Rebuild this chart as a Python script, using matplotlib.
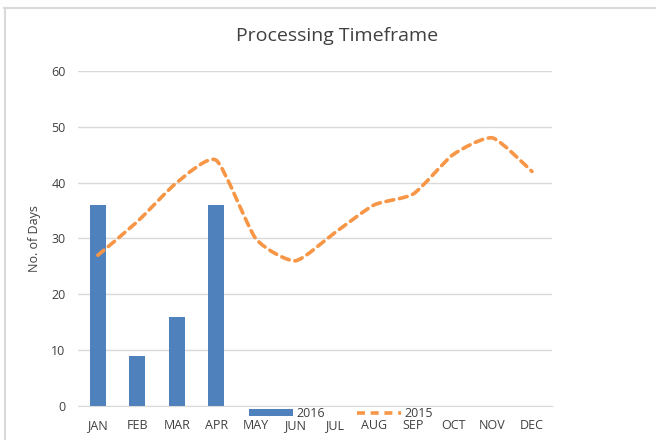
import matplotlib.pyplot as plt
import numpy as np
from matplotlib.path import Path
from matplotlib.patches import PathPatch, Patch
from matplotlib.lines import Line2D

plt.rcParams['font.family'] = ['Open Sans', 'DejaVu Sans']

months = ["JAN", "FEB", "MAR", "APR", "MAY", "JUN",
          "JUL", "AUG", "SEP", "OCT", "NOV", "DEC"]
days_2016 = [36, 9, 16, 36]
days_2015 = [27, 33, 40, 44, 30, 26, 31, 36, 38, 45, 48, 42]

blue = "#4f81bd"
orange = "#f79646"

fig = plt.figure(figsize=(6.56, 4.4), dpi=100)
ax = fig.add_axes([0.119, 0.077, 0.722, 0.762])

x = np.arange(len(months))
ax.bar(x[:len(days_2016)], days_2016, width=0.4, color=blue, zorder=2)


def smooth_path(xs, ys, t=0.1):
    # excel-style smoothed line: cubic bezier through every point
    pts = np.column_stack([xs, ys]).astype(float)
    verts = [pts[0]]
    codes = [Path.MOVETO]
    n = len(pts)
    for i in range(n - 1):
        p0 = pts[max(i - 1, 0)]
        p1 = pts[i]
        p2 = pts[i + 1]
        p3 = pts[min(i + 2, n - 1)]
        c1 = p1 + (p2 - p0) * t
        c2 = p2 - (p3 - p1) * t
        verts += [c1, c2, p2]
        codes += [Path.CURVE4] * 3
    return Path(verts, codes)


line = PathPatch(smooth_path(x, days_2015), facecolor="none", edgecolor=orange,
                 lw=2.6, linestyle=(0, (2.2, 1.6)), capstyle="round", zorder=3)
ax.add_patch(line)

ax.set_xlim(-0.5, 11.5)
ax.set_ylim(0, 60)
ax.set_yticks(range(0, 61, 10))
ax.set_xticks(x)
ax.set_xticklabels(months)
ax.grid(axis="y", color="#d9d9d9", lw=1, zorder=0)
for s in ["top", "right", "left"]:
    ax.spines[s].set_visible(False)
ax.spines["bottom"].set_color("#d9d9d9")
ax.tick_params(length=0, labelsize=9, colors="#404040", pad=9)
ax.tick_params(axis="y", pad=9)

ax.set_ylabel("No. of Days", fontsize=9, color="#404040", labelpad=7)
fig.text(0.514, 0.918, "Processing Timeframe", fontsize=14, color="#404040",
         ha="center", va="center")

handles = [Patch(facecolor=blue, edgecolor="none"),
           Line2D([0], [0], color=orange, lw=2.6, linestyle=(0, (2.2, 1.6)))]
fig.legend(handles, ["2016", "2015"], loc="center", bbox_to_anchor=(0.52, 0.06),
           ncol=2, frameon=False, fontsize=9, handlelength=3.5, handleheight=0.5,
           columnspacing=2.6, handletextpad=0.3, labelcolor="#404040")

# worksheet frame lines
fig.add_artist(Line2D([0.006, 1], [0.981, 0.981], color="#d9d9d9", lw=1.5,
                      transform=fig.transFigure))
fig.add_artist(Line2D([0.008, 0.008], [0, 0.981], color="#d9d9d9", lw=1.5,
                      transform=fig.transFigure))

fig.savefig("out.png", dpi=100)
